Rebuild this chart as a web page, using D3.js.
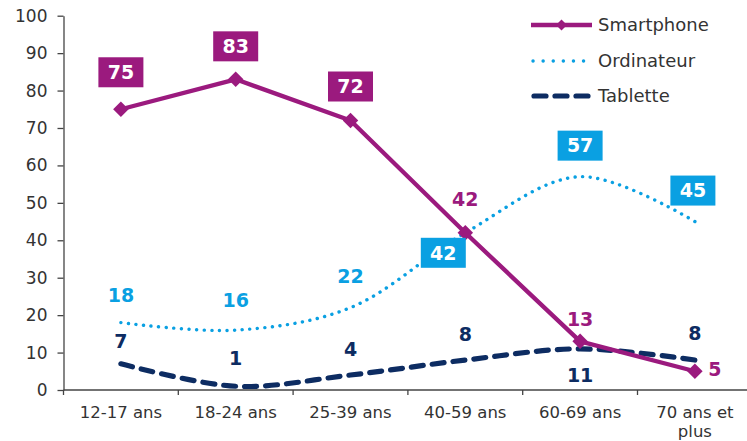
<!DOCTYPE html>
<html><head><meta charset="utf-8">
<script src="https://cdn.jsdelivr.net/npm/d3@7"></script>
<style>
html,body{margin:0;padding:0;background:#fff;}
svg{display:block;font-family:"DejaVu Sans",Verdana,sans-serif;}
</style></head>
<body><svg id="c" width="747" height="441"></svg>
<script>
const categories = ["12-17 ans","18-24 ans","25-39 ans","40-59 ans","60-69 ans","70 ans et plus"];
const smartphone = [75, 83, 72, 42, 13, 5];
const ordinateur = [18, 16, 22, 42, 57, 45];
const tablette = [7, 1, 4, 8, 11, 8];
const seriesNames = ["Smartphone","Ordinateur","Tablette"];
const yTicks = [0,10,20,30,40,50,60,70,80,90,100];

const colors = {Smartphone:"#9b1a7e", Ordinateur:"#0aa0e2", Tablette:"#0d2c62"};
// label placement: [dx, dy, boxed]
const labelStyle = {
  Smartphone: [[0,-37,true],[0,-33,true],[0,-34,true],[0,-34,false],[0,-22,false],[20,-2,false]],
  Ordinateur: [[0,-27,false],[0,-30,false],[0,-31,false],[-22,20,true],[0,-31,true],[-2,-31,true]],
  Tablette:   [[0,-23,false],[0,-28,false],[0,-26,false],[0,-26,false],[0,26,false],[0,-27,false]]
};

const svg = d3.select("#c");
const x = d3.scaleBand().domain(categories).range([63.5, 752.3]);
const y = d3.scaleLinear().domain([0,100]).range([390, 15.7]);
const cx = d => x(d) + x.bandwidth()/2;

// Y axis
const yAxis = svg.append("g").attr("transform","translate(63.5,0)")
  .call(d3.axisLeft(y).tickValues(yTicks).tickSize(6).tickPadding(10).tickSizeOuter(0));
yAxis.select(".domain").attr("stroke","#444").attr("stroke-width",1.3);
yAxis.selectAll(".tick line").attr("stroke","#444").attr("stroke-width",1.3);
yAxis.selectAll(".tick text").attr("fill","#333").style("font-size","17px")
  .style("font-family","DejaVu Sans, sans-serif");

// X axis
const xg = svg.append("g").attr("transform","translate(0,390)");
xg.append("line").attr("x1",63.5).attr("x2",747).attr("y1",0).attr("y2",0)
  .attr("stroke","#444").attr("stroke-width",1.3);
const bounds = categories.map(c => x(c)).concat([x.range()[1]]);
xg.selectAll("line.tk").data(bounds).join("line").attr("class","tk")
  .attr("x1",d=>d).attr("x2",d=>d).attr("y1",0).attr("y2",5)
  .attr("stroke","#444").attr("stroke-width",1.3);
categories.forEach(c => {
  const words = c === "70 ans et plus" ? ["70 ans et","plus"] : [c];
  const t = xg.append("text").attr("x",cx(c)).attr("y",28).attr("text-anchor","middle")
    .attr("fill","#333").style("font-size","16.5px");
  words.forEach((w,i)=> t.append("tspan").attr("x",cx(c)).attr("dy", i===0?0:19).text(w));
});

const data = {Smartphone: smartphone, Ordinateur: ordinateur, Tablette: tablette};

// Lines
const lineSmooth = d3.line().x((d,i)=>cx(categories[i])).y(d=>y(d)).curve(d3.curveCatmullRom.alpha(0.5));
const lineStraight = d3.line().x((d,i)=>cx(categories[i])).y(d=>y(d));

svg.append("path").attr("d", lineSmooth(ordinateur)).attr("fill","none")
  .attr("stroke",colors.Ordinateur).attr("stroke-width",3.4)
  .attr("stroke-dasharray","0.1 7.5").attr("stroke-linecap","round");
svg.append("path").attr("d", lineSmooth(tablette)).attr("fill","none")
  .attr("stroke",colors.Tablette).attr("stroke-width",5.2)
  .attr("stroke-dasharray","12 9").attr("stroke-linecap","round");
svg.append("path").attr("d", lineStraight(smartphone)).attr("fill","none")
  .attr("stroke",colors.Smartphone).attr("stroke-width",4.3).attr("stroke-linejoin","round");
svg.selectAll("path.mk").data(smartphone).join("path").attr("class","mk")
  .attr("d", d3.symbol(d3.symbolSquare, 120)())
  .attr("transform",(d,i)=>`translate(${cx(categories[i])},${y(d)}) rotate(45)`)
  .attr("fill",colors.Smartphone);

// Data labels
seriesNames.forEach(name => {
  data[name].forEach((v,i)=>{
    const [dx,dy,boxed] = labelStyle[name][i];
    const px = cx(categories[i]) + dx, py = y(v) + dy;
    const g = svg.append("g").attr("transform",`translate(${px},${py})`);
    if (boxed) {
      g.append("rect").attr("x",-22.5).attr("y",-15).attr("width",45).attr("height",30)
        .attr("fill",colors[name]);
    }
    g.append("text").attr("text-anchor","middle").attr("dy","0.36em")
      .attr("fill", boxed ? "#fff" : colors[name])
      .style("font-size","19px").style("font-weight","bold").text(v);
  });
});

// Legend
const lg = svg.append("g");
seriesNames.forEach((name,i)=>{
  const ly = [25,61,96][i];
  const l = lg.append("line").attr("x1",531).attr("x2",592).attr("y1",ly).attr("y2",ly)
    .attr("stroke",colors[name]);
  if (name==="Smartphone") {
    l.attr("stroke-width",4.3);
    lg.append("path").attr("d", d3.symbol(d3.symbolSquare, 60)())
      .attr("transform",`translate(561.5,${ly}) rotate(45)`).attr("fill",colors[name]);
  } else if (name==="Ordinateur") {
    l.attr("stroke-width",3.4).attr("stroke-dasharray","0.1 10").attr("stroke-linecap","round")
      .attr("x1",533);
  } else {
    l.attr("stroke-width",5.2).attr("stroke-dasharray","12 9").attr("stroke-linecap","round").attr("x1",534);
  }
  lg.append("text").attr("x",598).attr("y",ly).attr("dy","0.36em").attr("fill","#333")
    .style("font-size","18px").text(name);
});
</script></body></html>
